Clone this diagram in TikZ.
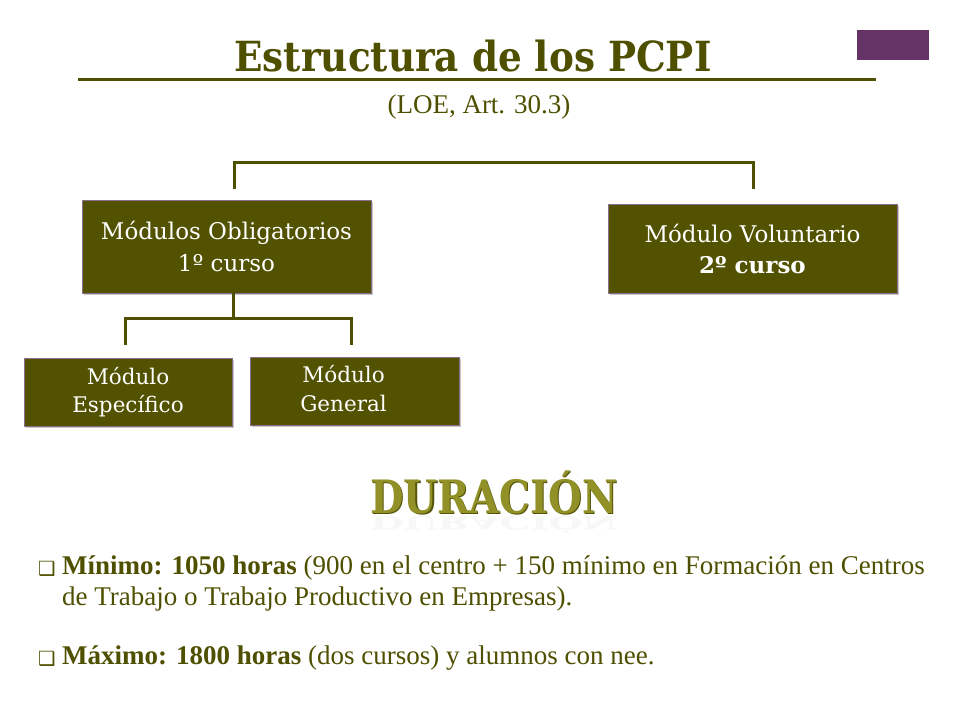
\documentclass[tikz,border=0pt]{standalone}
\usepackage{fontspec}
\usetikzlibrary{shadows,calc}
\setmainfont{Liberation Serif}
\newfontfamily\slabfont{DejaVu Serif}
\newfontfamily\bodyfont{Liberation Serif}
\newfontfamily\symfont{DejaVu Sans}
\definecolor{olivedark}{RGB}{79,79,0}
\definecolor{boxfill}{RGB}{82,82,0}
\definecolor{boxedge}{RGB}{140,110,140}
\definecolor{plum}{RGB}{102,51,102}
\definecolor{durfill}{RGB}{145,145,40}
\definecolor{duredge}{RGB}{85,85,10}
\tikzset{
  box/.style={draw=boxedge, line width=0.8pt, fill=boxfill, text=white, align=center,
    drop shadow={opacity=0.45, shadow xshift=2pt, shadow yshift=-2pt}, inner sep=0pt},
  conn/.style={draw=olivedark, line width=3pt, line cap=rect},
  bodytxt/.style={text=olivedark, anchor=base west, inner sep=0pt, font=\bodyfont\fontsize{27}{30}\selectfont},
  bullettxt/.style={anchor=base west, inner sep=0pt, text=olivedark, font=\symfont\fontsize{19.5}{22}\selectfont},
  durtxt/.style={anchor=base, inner sep=0pt, font=\slabfont\bfseries\fontsize{46}{48}\selectfont}
}
\begin{document}
\begin{tikzpicture}[x=1pt,y=-1pt]
\useasboundingbox[fill=white] (0,0) rectangle (960,720);
% purple square
\fill[plum] (857,30) rectangle (929,60);
% title
\node[anchor=base, text=olivedark, inner sep=0pt, font=\slabfont\bfseries\fontsize{41.5}{44}\selectfont] (title) at (473,71) {\scalebox{0.9}[1]{Estructura de los PCPI}};
\coordinate (tl0) at (78,79);
\coordinate (tl1) at (876,79);
\draw[olivedark, line width=3pt] (tl0) -- (tl1);
\node[anchor=base, text=olivedark, inner sep=0pt, font=\bodyfont\fontsize{27}{30}\selectfont] (loe) at (479,113) {(LOE, Art. 30.3)};
% boxes
\node[box, minimum width=289pt, minimum height=93pt, font=\slabfont\fontsize{23}{32}\selectfont] (mo) at (226.5,246.5) {Módulos Obligatorios\\1º curso};
\node[box, minimum width=289pt, minimum height=89pt, font=\slabfont\fontsize{23}{31}\selectfont] (mv) at (752.5,248.5) {Módulo Voluntario\\\textbf{2º curso}};
\node[box, minimum width=208pt, minimum height=68pt, font=\slabfont\fontsize{21.5}{28}\selectfont] (me) at (128,392) {Módulo\\Específico};
\node[box, minimum width=209pt, minimum height=68pt, font=\slabfont\fontsize{21.5}{29}\selectfont] (mg) at (354.5,391) {\hspace*{-22pt}\begin{tabular}{@{}c@{}}Módulo\\[-0.5pt]General\end{tabular}};
% top bracket
\coordinate (ta) at (234,187);
\coordinate (tb) at (753,187);
\draw[conn] (ta) -- ++(0,-25) -| (tb);
% lower bracket
\coordinate (ma) at (233,293);
\coordinate (mb) at (233,318);
\coordinate (la) at (125,343);
\coordinate (lb) at (351,343);
\draw[conn] (ma) -- (mb);
\draw[conn] (la) |- (mb) -| (lb);
% DURACION
\node[durtxt, text=black!3, yscale=-0.4] (refl) at (494,516) {\scalebox{0.84}[1]{DURACIÓN}};
\node[durtxt, text=duredge] (dur2) at (495.2,514.2) {\scalebox{0.84}[1]{DURACIÓN}};
\node[durtxt, text=durfill] (dur) at (494,513) {\scalebox{0.84}[1]{DURACIÓN}};
% bullets
\node[bullettxt] (b1) at (38,575) {❑};
\node[bodytxt] (t1) at (62,574) {\textbf{Mínimo: 1050 horas} (900 en el centro + 150 mínimo en Formación en Centros};
\node[bodytxt] (t2) at (62,605) {de Trabajo o Trabajo Productivo en Empresas).};
\node[bullettxt] (b2) at (38,665) {❑};
\node[bodytxt] (t3) at (62,664) {\textbf{Máximo: 1800 horas} (dos cursos) y alumnos con nee.};
\end{tikzpicture}
\end{document}
